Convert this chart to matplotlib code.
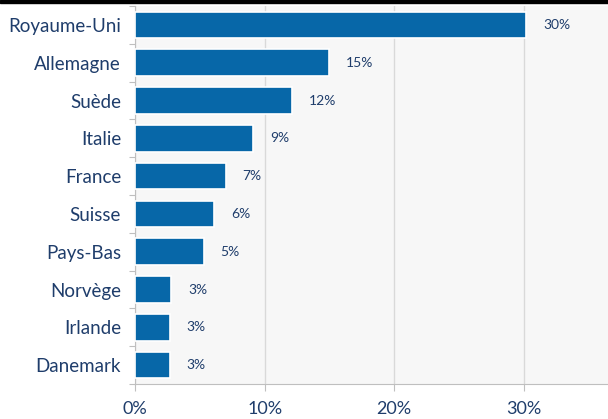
import matplotlib
matplotlib.use('Agg')
import matplotlib.pyplot as plt
from matplotlib.patches import Rectangle

# Données
pays = ['Royaume-Uni', 'Allemagne', 'Suède', 'Italie', 'France',
        'Suisse', 'Pays-Bas', 'Norvège', 'Irlande', 'Danemark']
valeurs = [30.2, 15.0, 12.1, 9.1, 7.0, 6.1, 5.3, 2.8, 2.7, 2.7]
etiquettes = ['30%', '15%', '12%', '9%', '7%', '6%', '5%', '3%', '3%', '3%']
graduations = [0, 10, 20, 30]
grad_labels = ['0%', '10%', '20%', '30%']

bleu = '#0767a8'
texte = '#1f3d6b'

plt.rcParams['font.family'] = ['Lato', 'DejaVu Sans']

fig = plt.figure(figsize=(6.08, 4.19), dpi=100)
ax = fig.add_axes([135 / 608, 1 - 384 / 419, 1 - 135 / 608, 378 / 419])
ax.set_facecolor('#f7f7f7')

pos = list(range(len(pays)))
ax.barh(pos, valeurs, height=0.7, color=bleu, edgecolor='white', linewidth=1.2, zorder=3)

for p, v, t in zip(pos, valeurs, etiquettes):
    ax.text(v + 1.3, p, t, va='center', ha='left', fontsize=10, color=texte, zorder=4)

ax.set_xlim(0, 36.5)
ax.set_ylim(len(pays) - 0.5, -0.5)

# graduations en x
ax.set_xticks(graduations)
ax.set_xticklabels(grad_labels, fontsize=13, color=texte)
ax.tick_params(axis='x', length=5, color='#bfbfbf', pad=7)
ax.xaxis.grid(True, color='#d9d9d9', linewidth=1, zorder=0)

# catégories en y, tirets aux frontières
ax.set_yticks([p + 0.5 for p in pos[:-1]] + [-0.5, len(pays) - 0.5], minor=False)
ax.set_yticklabels([])
ax.set_yticks(pos, minor=True)
ax.set_yticklabels(pays, minor=True, fontsize=13.5, color=texte)
ax.tick_params(axis='y', which='major', length=4, color='#bfbfbf')
ax.tick_params(axis='y', which='minor', length=0, pad=10)

for s in ['top', 'right']:
    ax.spines[s].set_visible(False)
ax.spines['left'].set_color('#bfbfbf')
ax.spines['bottom'].set_color('#bfbfbf')

# bandeau noir en haut
fig.add_artist(Rectangle((0, 1 - 3 / 419), 1, 3 / 419, color='black', transform=fig.transFigure))

fig.savefig('out.png', dpi=100)
